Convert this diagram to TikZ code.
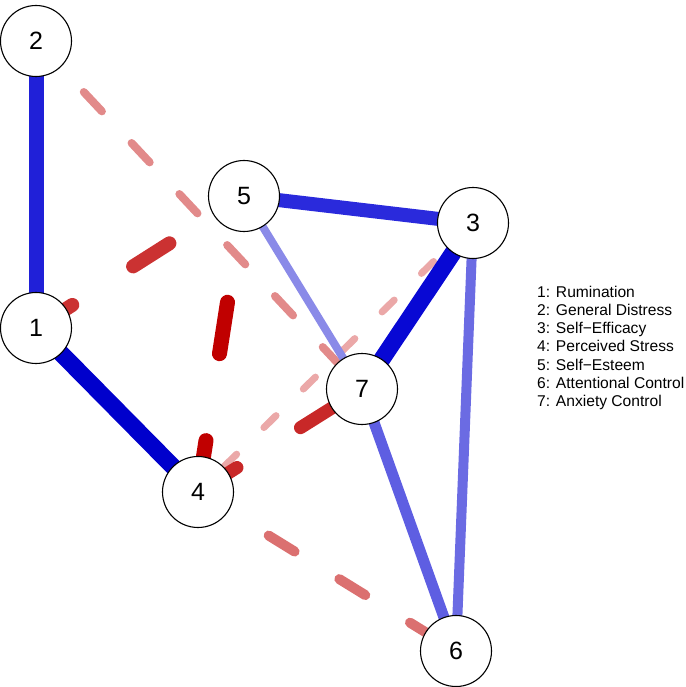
\documentclass[tikz,border=0pt]{standalone}
\usepackage{fontspec}
\setmainfont{Liberation Sans}
\usetikzlibrary{backgrounds}
\definecolor{bA}{HTML}{2020D8}
\definecolor{bB}{HTML}{0000CC}
\definecolor{bC}{HTML}{2A2ADC}
\definecolor{bD}{HTML}{0808D4}
\definecolor{bE}{HTML}{6B6BE3}
\definecolor{bF}{HTML}{5E5EE2}
\definecolor{bG}{HTML}{8A8AE8}
\definecolor{rA}{HTML}{CB3232}
\definecolor{rB}{HTML}{C00000}
\definecolor{rC}{HTML}{C82828}
\definecolor{rD}{HTML}{DB7070}
\definecolor{rE}{HTML}{E28A8A}
\definecolor{rF}{HTML}{EBA8A8}
\begin{document}
\begin{tikzpicture}[x=1pt,y=-1pt,
  vertex/.style={circle, draw=black, line width=1.1pt, fill=white, minimum size=71pt, inner sep=0pt, font=\fontsize{25}{25}\selectfont},
  edge/.style={line cap=round},
  legend/.style={anchor=base west, font=\fontsize{15.6}{15.6}\selectfont, inner sep=0pt}]
\useasboundingbox (0,0) rectangle (685,687);
\node[vertex] (n1) at (36,328) {1};
\node[vertex] (n2) at (36,41) {2};
\node[vertex] (n3) at (473,223) {3};
\node[vertex] (n4) at (198,492) {4};
\node[vertex] (n5) at (244,196) {5};
\node[vertex] (n6) at (456,651) {6};
\node[vertex] (n7) at (362,389) {7};
\begin{scope}[on background layer]
\draw[edge, line width=7pt, rF, dash pattern=on 17pt off 38.1pt] (n3.center) -- (n4.center);
\draw[edge, line width=8pt, rE, dash pattern=on 26.5pt off 43.4pt] (n2.center) -- (n7.center);
\draw[edge, line width=8pt, bG] (n5.center) -- (n7.center);
\draw[edge, line width=10pt, rD, dash pattern=on 30.5pt off 52.5pt] (n4.center) -- (n6.center);
\draw[edge, line width=10pt, bE] (n3.center) -- (n6.center);
\draw[edge, line width=11pt, bF] (n7.center) -- (n6.center);
\draw[edge, line width=13pt, rC, dash pattern=on 46pt off 75pt] (n4.center) -- (n7.center);
\draw[edge, line width=14pt, rA, dash pattern=on 43pt off 72pt] (n1.center) -- (n5.center);
\draw[edge, line width=14pt, bC] (n5.center) -- (n3.center);
\draw[edge, line width=15pt, bA] (n1.center) -- (n2.center);
\draw[edge, line width=15pt, rB, dash pattern=on 52pt off 88pt] (n4.center) -- (n5.center);
\draw[edge, line width=17pt, bB] (n1.center) -- (n4.center);
\draw[edge, line width=17pt, bD] (n3.center) -- (n7.center);
\end{scope}
\node[legend] (l1) at (537,297) {1: Rumination};
\node[legend] (l2) at (537,315.3) {2: General Distress};
\node[legend] (l3) at (537,333.6) {3: Self−Efficacy};
\node[legend] (l4) at (537,351.9) {4: Perceived Stress};
\node[legend] (l5) at (537,370.2) {5: Self−Esteem};
\node[legend] (l6) at (537,388.5) {6: Attentional Control};
\node[legend] (l7) at (537,406.8) {7: Anxiety Control};
\end{tikzpicture}
\end{document}
